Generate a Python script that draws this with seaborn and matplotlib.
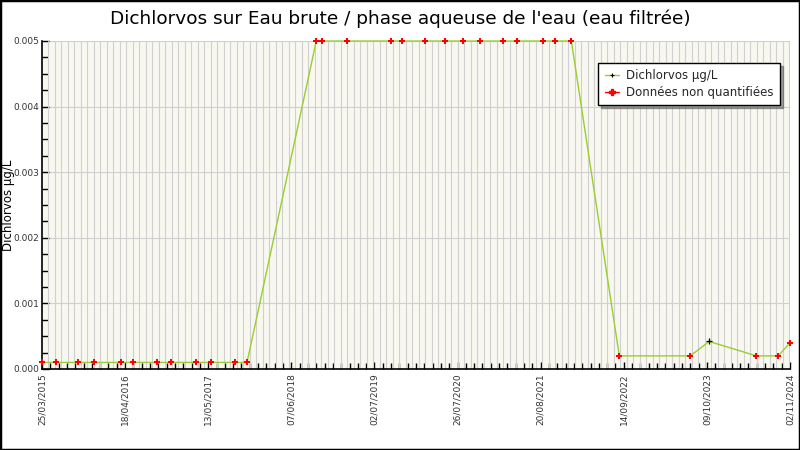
import numpy as np
import pandas as pd
import matplotlib
matplotlib.use("Agg")
import matplotlib.pyplot as plt
import matplotlib.dates as mdates
from matplotlib.lines import Line2D
from matplotlib.patches import Rectangle
from matplotlib.ticker import FixedLocator, MultipleLocator, FormatStrFormatter
import seaborn as sns

# Sample dates and measured values (µg/L)
sample_dates = [
    "2015-03-25", "2015-05-31", "2015-09-11", "2015-11-25", "2016-03-31",
    "2016-05-26", "2016-09-15", "2016-11-21", "2017-03-18", "2017-05-27",
    "2017-09-17", "2017-11-11", "2018-10-02", "2018-10-30", "2019-02-25",
    "2019-09-19", "2019-11-10", "2020-02-26", "2020-05-29", "2020-08-22",
    "2020-11-10", "2021-02-26", "2021-05-02", "2021-09-01", "2021-10-28",
    "2022-01-11", "2022-08-24", "2023-07-23", "2023-10-20", "2024-05-28",
    "2024-09-08", "2024-11-02",
]
sample_values = [
    0.0001, 0.0001, 0.0001, 0.0001, 0.0001,
    0.0001, 0.0001, 0.0001, 0.0001, 0.0001,
    0.0001, 0.0001, 0.005, 0.005, 0.005,
    0.005, 0.005, 0.005, 0.005, 0.005,
    0.005, 0.005, 0.005, 0.005, 0.005,
    0.005, 0.0002, 0.0002, 0.00042, 0.0002,
    0.0002, 0.0004,
]
# True = value below quantification limit
non_quantified = [
    True, True, True, True, True,
    True, True, True, True, True,
    True, True, True, True, True,
    True, True, True, True, True,
    True, True, True, True, True,
    True, True, True, False, True,
    True, True,
]

x_tick_labels = [
    "25/03/2015", "18/04/2016", "13/05/2017", "07/06/2018", "02/07/2019",
    "26/07/2020", "20/08/2021", "14/09/2022", "09/10/2023", "02/11/2024",
]
y_ticks = [0.0, 0.001, 0.002, 0.003, 0.004, 0.005]

title = "Dichlorvos sur Eau brute / phase aqueuse de l'eau (eau filtrée)"
y_label = "Dichlorvos µg/L"
series_label = "Dichlorvos µg/L"
nq_label = "Données non quantifiées"

df = pd.DataFrame({
    "date": pd.to_datetime(sample_dates),
    "value": sample_values,
    "nq": non_quantified,
})

sns.set_theme(style="ticks")
plt.rcParams["font.family"] = ["DejaVu Sans"]

fig = plt.figure(figsize=(8, 4.5), dpi=100)
ax = fig.add_axes([42 / 800, (450 - 369) / 450, 748 / 800, 328 / 450])
ax.set_facecolor("#f8f8f0")

line_color = "#9acd32"
sns.lineplot(data=df, x="date", y="value", color=line_color, linewidth=1.0,
             ax=ax, zorder=3, legend=False, clip_on=False)
sns.scatterplot(data=df[df["nq"]], x="date", y="value", marker="P", color="red",
                s=24, edgecolor="red", linewidth=0, ax=ax, zorder=4, legend=False,
                clip_on=False)
sns.scatterplot(data=df[~df["nq"]], x="date", y="value", marker="+", color="black",
                s=14, linewidth=0.9, ax=ax, zorder=4, legend=False, clip_on=False)

# x axis
tick_dates = pd.to_datetime(x_tick_labels, format="%d/%m/%Y")
tick_nums = mdates.date2num(tick_dates)
x0, x1 = tick_nums[0], tick_nums[-1]
ax.set_xlim(x0, x1)
ax.xaxis.set_major_locator(FixedLocator(tick_nums))
ax.set_xticklabels(x_tick_labels, rotation=90)
step = (tick_nums[1] - tick_nums[0]) / 10
ax.xaxis.set_minor_locator(FixedLocator(np.arange(x0, x1 + 1, step)))
for gx in np.arange(x0 + 30.5, x1, 30.5):
    ax.axvline(gx, color="#d0d0d0", linewidth=0.8, zorder=1)

# y axis
ax.set_ylim(0, 0.005)
ax.yaxis.set_major_locator(FixedLocator(y_ticks))
ax.yaxis.set_minor_locator(MultipleLocator(0.00025))
ax.yaxis.set_major_formatter(FormatStrFormatter("%.3f"))
ax.grid(axis="y", which="major", color="#d0d0d0", linewidth=0.8, zorder=1)

ax.tick_params(axis="both", which="both", direction="in", colors="black",
               labelcolor="#333333", labelsize=6.5, width=1)
ax.tick_params(axis="both", which="major", length=5, pad=3)
ax.tick_params(axis="y", which="major", pad=2)
ax.tick_params(axis="both", which="minor", length=4)
ax.tick_params(axis="x", which="both", top=False)
ax.tick_params(axis="y", which="both", right=False)

for side in ["left", "bottom"]:
    ax.spines[side].set_color("black")
    ax.spines[side].set_linewidth(1.2)
for side in ["top", "right"]:
    ax.spines[side].set_visible(False)

ax.set_xlabel("")
ax.set_ylabel("")
fig.text(8.5 / 800, 1 - 205 / 450, y_label, rotation=90, ha="center", va="center",
         fontsize=8.5, color="black")
fig.text(0.5, 1 - 19 / 450, title, ha="center", va="center", fontsize=13.3, color="black")

handles = [
    Line2D([0], [0], color=line_color, linewidth=1.0, marker="+", markersize=3,
           markeredgecolor="black", markeredgewidth=0.8),
    Line2D([0], [0], color="red", linewidth=1.0, marker="P", markersize=5,
           markerfacecolor="red", markeredgecolor="red"),
]
leg = ax.legend(handles, [series_label, nq_label], loc="upper right",
                bbox_to_anchor=(744 / 748, 1 - 16 / 328), fontsize=8.5,
                frameon=True, fancybox=False, shadow=True, handlelength=1.2,
                handletextpad=0.6, borderpad=0.55, labelspacing=0.3)
leg.get_frame().set_edgecolor("black")
leg.get_frame().set_linewidth(1)
leg.get_frame().set_facecolor("white")
leg.set_zorder(6)

fig.patches.append(Rectangle((0, 0), 1, 1, transform=fig.transFigure, fill=False,
                             edgecolor="black", linewidth=2.5, zorder=10))

fig.savefig("out.png", dpi=100)
